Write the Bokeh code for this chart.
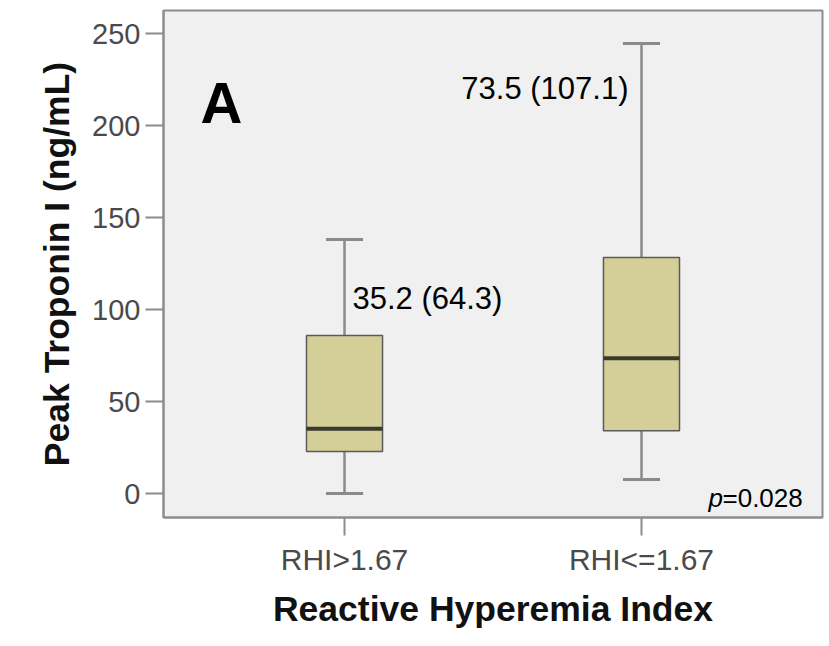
from bokeh.plotting import figure
from bokeh.models import FactorRange, Range1d, Label, FixedTicker
from bokeh.core.properties import value
from bokeh.embed import file_html
from bokeh.resources import INLINE

# ---- data ----
groups = ["RHI>1.67", "RHI<=1.67"]
q1 = [22.8, 34.2]
median = [35.2, 73.5]
q3 = [85.9, 128.3]
whisker_low = [0.0, 7.6]
whisker_high = [138.0, 244.6]
annot_text = ["35.2 (64.3)", "73.5 (107.1)"]
annot_y = [106.0, 220.0]
y_ticks = [0, 50, 100, 150, 200, 250]

FONT = "Liberation Sans"

p = figure(
    width=829, height=646,
    x_range=FactorRange(factors=groups, range_padding=0.1095, range_padding_units="absolute"),
    y_range=Range1d(-13.0, 262.5),
    output_backend="svg", toolbar_location=None,
    min_border_left=163, min_border_right=7, min_border_top=10, min_border_bottom=129,
)
p.background_fill_color = "#f0f0f0"
p.border_fill_color = "white"
p.outline_line_color = "#8c8c8c"
p.outline_line_width = 2
p.xgrid.visible = False
p.ygrid.visible = False

# whiskers
p.segment(x0=groups, y0=q3, x1=groups, y1=whisker_high, line_color="#8a8a8a", line_width=2.5)
p.segment(x0=groups, y0=whisker_low, x1=groups, y1=q1, line_color="#8a8a8a", line_width=2.5)
# caps
p.rect(x=groups, y=whisker_high, width=0.125, height=3, height_units="screen",
       fill_color="#8a8a8a", line_color=None)
p.rect(x=groups, y=whisker_low, width=0.125, height=3, height_units="screen",
       fill_color="#8a8a8a", line_color=None)
# boxes
p.vbar(x=groups, bottom=q1, top=q3, width=0.256, fill_color="#d4cf98",
       line_color="#5a5a5a", line_width=1.5)
# medians
p.rect(x=groups, y=median, width=0.256, height=4, height_units="screen",
       fill_color="#3a3a2c", line_color=None)

# annotations
p.text(x=[groups[0]], y=[annot_y[0]], text=[annot_text[0]], x_offset=8,
       text_font=value(FONT), text_font_size="31px", text_color="black",
       text_align="left", text_baseline="alphabetic")
p.text(x=[groups[1]], y=[annot_y[1]], text=[annot_text[1]], x_offset=-13,
       text_font=value(FONT), text_font_size="31px", text_color="black",
       text_align="right", text_baseline="alphabetic")

p.add_layout(Label(x=37, y=415, x_units="screen", y_units="screen", text="A",
                   text_font=FONT, text_font_size="58px", text_font_style="bold",
                   text_color="black", text_baseline="alphabetic"))
p.add_layout(Label(x=545, y=20, x_units="screen", y_units="screen", text="p",
                   text_font=FONT, text_font_size="26px", text_font_style="italic",
                   text_color="black", text_baseline="alphabetic"))
p.add_layout(Label(x=559, y=20, x_units="screen", y_units="screen", text="=0.028",
                   text_font=FONT, text_font_size="26px",
                   text_color="black", text_baseline="alphabetic"))

# axes
p.yaxis.ticker = FixedTicker(ticks=y_ticks)
for ax in (p.xaxis[0], p.yaxis[0]):
    ax.axis_line_color = "#8c8c8c"
    ax.axis_line_width = 2
    ax.major_tick_line_color = "#8c8c8c"
    ax.major_tick_line_width = 2
    ax.major_tick_out = 18
    ax.major_tick_in = 0
    ax.minor_tick_line_color = None
    ax.major_label_text_font = FONT
    ax.major_label_text_color = "#4a4a4a"
    ax.axis_label_text_font = FONT
    ax.axis_label_text_font_style = "bold"
    ax.axis_label_text_color = "#111111"
    ax.axis_label_text_font_size = "35.5px"

p.yaxis.major_label_text_font_size = "29px"
p.yaxis.major_label_standoff = 5
p.yaxis.axis_label = "Peak Troponin I (ng/mL)"
p.yaxis.axis_label_standoff = 12

p.xaxis.major_label_text_font_size = "30px"
p.xaxis.major_label_standoff = 7
p.xaxis.axis_label = "Reactive Hyperemia Index"
p.xaxis.axis_label_standoff = 10

open("out.html", "w").write(file_html(p, INLINE))
